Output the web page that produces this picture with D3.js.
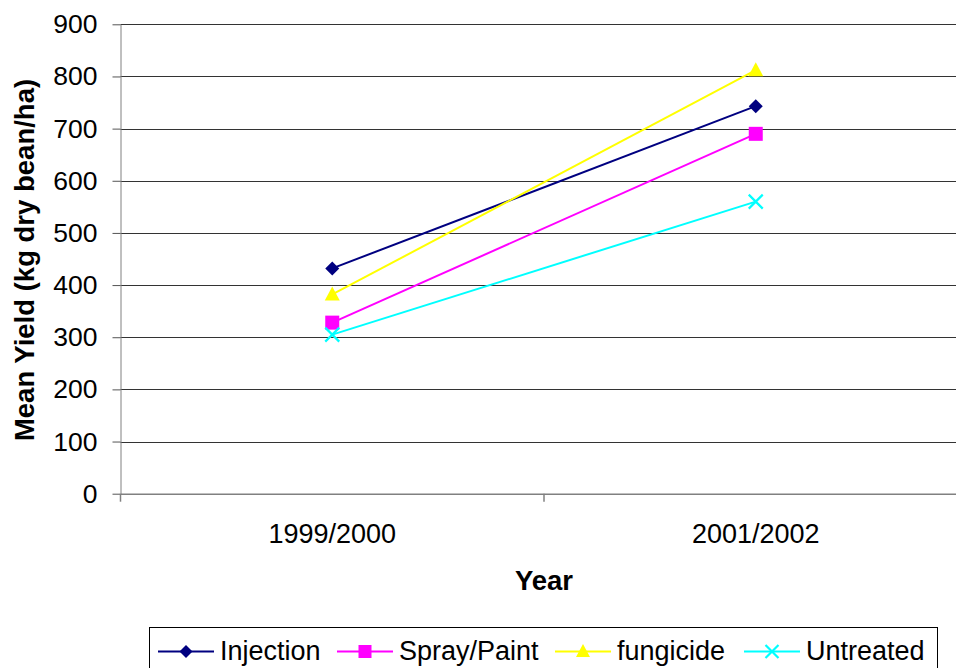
<!DOCTYPE html>
<html>
<head>
<meta charset="utf-8">
<script src="https://cdn.jsdelivr.net/npm/d3@7"></script>
<style>
  html, body { margin: 0; padding: 0; background: #fff; }
  svg { display: block; font-family: "Liberation Sans", Arial, sans-serif; }
</style>
</head>
<body>
<svg id="chart" width="956" height="668"></svg>
<script>
// Mean yield per treatment, two seasons
const years = ["1999/2000", "2001/2002"];
const injection = [432, 743];
const sprayPaint = [328, 690];
const fungicide = [382, 812];
const untreated = [305, 560];
const yTicks = [0, 100, 200, 300, 400, 500, 600, 700, 800, 900];

const series = [
  { name: "Injection",   values: injection,  color: "#000080", symbol: "diamond" },
  { name: "Spray/Paint", values: sprayPaint, color: "#FF00FF", symbol: "square" },
  { name: "fungicide",   values: fungicide,  color: "#FFFF00", symbol: "triangle" },
  { name: "Untreated",   values: untreated,  color: "#00FFFF", symbol: "cross" }
];

const svg = d3.select("#chart");
const plotLeft = 120.5, plotRight = 967.5, plotTop = 24.3, plotBottom = 493.7;

const x = d3.scaleBand().domain(years).range([plotLeft, plotRight]).padding(0);
const y = d3.scaleLinear().domain([0, 900]).range([plotBottom, plotTop]);
const cx = d => x(d) + x.bandwidth() / 2;

// horizontal gridlines
svg.append("g")
  .selectAll("line")
  .data(yTicks.filter(t => t > 0))
  .join("line")
  .attr("x1", plotLeft).attr("x2", plotRight)
  .attr("y1", d => Math.round(y(d)) + 0.5).attr("y2", d => Math.round(y(d)) + 0.5)
  .attr("stroke", "#333").attr("stroke-width", 1);

// y axis
const yAxis = svg.append("g")
  .attr("transform", `translate(${plotLeft},0)`)
  .call(d3.axisLeft(y).tickValues(yTicks).tickSize(8).tickPadding(15).tickSizeOuter(0));
yAxis.select(".domain").attr("stroke", "#808080").attr("stroke-width", 1);
yAxis.selectAll(".tick line").attr("stroke", "#555");
yAxis.selectAll(".tick text")
  .attr("font-size", 26.5).attr("fill", "#000")
  .attr("font-family", "'Liberation Sans', Arial, sans-serif");

// x axis
const xAxis = svg.append("g")
  .attr("transform", `translate(0,${plotBottom})`)
  .call(d3.axisBottom(x).tickSize(0).tickPadding(30).tickSizeOuter(0));
xAxis.select(".domain").attr("stroke", "#808080").attr("stroke-width", 1.5);
xAxis.selectAll(".tick text")
  .attr("font-size", 27).attr("fill", "#000")
  .attr("font-family", "'Liberation Sans', Arial, sans-serif");
// category separators
svg.append("g")
  .selectAll("line")
  .data([plotLeft, x(years[1]), plotRight])
  .join("line")
  .attr("x1", d => d).attr("x2", d => d)
  .attr("y1", plotBottom).attr("y2", plotBottom + 8)
  .attr("stroke", "#808080").attr("stroke-width", 1.5);

// axis titles
svg.append("text")
  .attr("transform", `translate(34,260) rotate(-90)`)
  .attr("text-anchor", "middle")
  .attr("font-size", 27.5).attr("font-weight", "bold")
  .text("Mean Yield (kg dry bean/ha)");
svg.append("text")
  .attr("x", cx(years[0]) + x.bandwidth() / 2)
  .attr("y", 590)
  .attr("text-anchor", "middle")
  .attr("font-size", 27.5).attr("font-weight", "bold")
  .text("Year");

// marker drawing
function drawMarker(g, symbol, color, px, py, s) {
  if (symbol === "diamond") {
    g.append("path").attr("d", `M${px},${py - s}L${px + s},${py}L${px},${py + s}L${px - s},${py}Z`)
      .attr("fill", color);
  } else if (symbol === "square") {
    g.append("rect").attr("x", px - s).attr("y", py - s).attr("width", 2 * s).attr("height", 2 * s)
      .attr("fill", color);
  } else if (symbol === "triangle") {
    g.append("path").attr("d", `M${px},${py - s - 1}L${px + s + 0.5},${py + s - 1}L${px - s - 0.5},${py + s - 1}Z`)
      .attr("fill", color);
  } else {
    g.append("path").attr("d", `M${px - s},${py - s}L${px + s},${py + s}M${px + s},${py - s}L${px - s},${py + s}`)
      .attr("stroke", color).attr("stroke-width", 2.2).attr("fill", "none");
  }
}

const line = d3.line().x((d, i) => cx(years[i])).y(d => y(d));

series.forEach(s => {
  const g = svg.append("g");
  g.append("path").attr("d", line(s.values))
    .attr("fill", "none").attr("stroke", s.color).attr("stroke-width", 2);
  s.values.forEach((v, i) => drawMarker(g, s.symbol, s.color, cx(years[i]), y(v), 7));
});

// legend
const legend = svg.append("g");
legend.append("rect")
  .attr("x", 149.5).attr("y", 627.5).attr("width", 788).attr("height", 50)
  .attr("fill", "#fff").attr("stroke", "#000").attr("stroke-width", 1);
const legendX = [158, 337, 555, 744];
series.forEach((s, i) => {
  const g = legend.append("g");
  const x0 = legendX[i];
  g.append("line").attr("x1", x0).attr("x2", x0 + 56).attr("y1", 651.5).attr("y2", 651.5)
    .attr("stroke", s.color).attr("stroke-width", 2);
  drawMarker(g, s.symbol, s.color, x0 + 28, 651.5, 6.5);
  g.append("text").attr("x", x0 + 62).attr("y", 660)
    .attr("font-size", 27).attr("fill", "#000")
    .text(s.name);
});
</script>
</body>
</html>
